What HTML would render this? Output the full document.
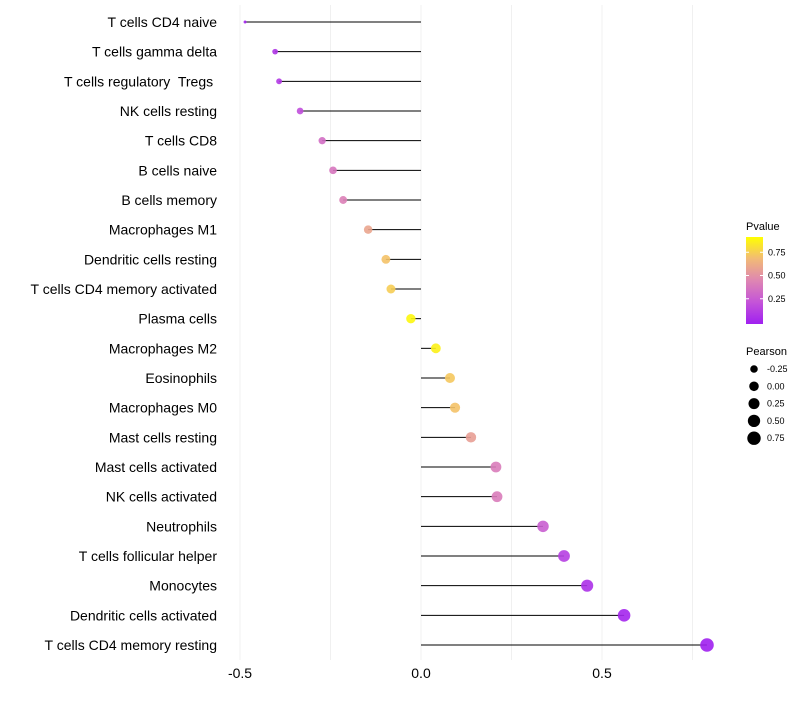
<!DOCTYPE html>
<html><head><meta charset="utf-8"><style>body{margin:0;background:#fff}svg{font-family:"Liberation Sans",sans-serif}text{white-space:pre}</style></head>
<body>
<svg id="chart" width="800" height="700"></svg>
<script>
const categories=["T cells CD4 naive","T cells gamma delta","T cells regulatory  Tregs ","NK cells resting","T cells CD8","B cells naive","B cells memory","Macrophages M1","Dendritic cells resting","T cells CD4 memory activated","Plasma cells","Macrophages M2","Eosinophils","Macrophages M0","Mast cells resting","Mast cells activated","NK cells activated","Neutrophils","T cells follicular helper","Monocytes","Dendritic cells activated","T cells CD4 memory resting"];
const pearson=[-0.486,-0.403,-0.392,-0.334,-0.273,-0.243,-0.215,-0.146,-0.097,-0.083,-0.028,0.041,0.080,0.094,0.138,0.207,0.210,0.337,0.395,0.459,0.561,0.790];
const pvalue=[0.02,0.1,0.12,0.22,0.38,0.42,0.47,0.65,0.78,0.82,0.97,0.95,0.8,0.78,0.62,0.45,0.45,0.3,0.15,0.08,0.03,0.001];
const xTicks=[-0.5,0,0.5];
const xTickLabels=["-0.5","0.0","0.5"];
const xGrid=[-0.5,-0.25,0,0.25,0.5,0.75];
const pTicks=[0.25,0.5,0.75];
const pTickLabels=["0.25","0.50","0.75"];
const sizeBreaks=[-0.25,0,0.25,0.5,0.75];
const sizeLabels=["-0.25","0.00","0.25","0.50","0.75"];

const NS="http://www.w3.org/2000/svg",svg=document.getElementById('chart');
function mk(t,a,p){const e=document.createElementNS(NS,t);for(const k in a)e.setAttribute(k,a[k]);(p||svg).appendChild(e);return e;}
const x=v=>421+v*362;
const y=i=>22+i*(623/(categories.length-1));
const pmin=Math.min(...pearson),pmax=Math.max(...pearson);
const r=v=>1.5+5.3*Math.sqrt(Math.max(0,(v-pmin)/(pmax-pmin)));
const stops=[[160,32,240],[196,84,216],[222,134,178],[242,186,118],[255,255,0]];
function col(p){p=Math.max(0,Math.min(1,p));const s=p*4,i=Math.min(3,Math.floor(s)),f=s-i;const a=stops[i],b=stops[i+1];
 return `rgb(${a.map((c,k)=>Math.round(c+(b[k]-c)*f)).join(',')})`;}
xGrid.forEach(g=>{const l=mk('line',{x1:x(g),x2:x(g),y1:5,y2:660,stroke:'#f0f0f0','stroke-width':1});
});
xTicks.forEach((t,i)=>{const e=mk('text',{x:x(t),y:678,'text-anchor':'middle','font-size':14,fill:'#000'});e.textContent=xTickLabels[i];
});
categories.forEach((c,i)=>{
 const t=mk('text',{x:217,y:y(i)+5,'text-anchor':'end','font-size':14,fill:'#000'});t.textContent=c;
 
 const l=mk('line',{x1:x(0),x2:x(pearson[i]),y1:y(i),y2:y(i),stroke:'#000','stroke-width':1});
 
 const d=mk('circle',{cx:x(pearson[i]),cy:y(i),r:r(pearson[i]),fill:col(pvalue[i]),'fill-opacity':0.9});
 
});
const pt=mk('text',{x:746,y:230,'font-size':11});pt.textContent='Pvalue';

const defs=mk('defs',{});const lg=mk('linearGradient',{id:'g',x1:0,y1:1,x2:0,y2:0},defs);
stops.forEach((s,i)=>mk('stop',{offset:i/4,'stop-color':col(i/4)},lg));
const cb=mk('rect',{x:746,y:237,width:17,height:87,fill:'url(#g)'});

const cy=p=>322-p*(322-229);
pTicks.forEach((p,i)=>{mk('line',{x1:746,x2:749,y1:cy(p),y2:cy(p),stroke:'#fff'});mk('line',{x1:760,x2:763,y1:cy(p),y2:cy(p),stroke:'#fff'});
 const e=mk('text',{x:768,y:cy(p)+3,'font-size':9});e.textContent=pTickLabels[i];
 });
const st=mk('text',{x:746,y:355,'font-size':11});st.textContent='Pearson';

sizeBreaks.forEach((s,i)=>{const yy=369+i*17.3;
 const c=mk('circle',{cx:754,cy:yy,r:r(s),fill:'#000'});
 
 const e=mk('text',{x:767,y:yy+3,'font-size':9});e.textContent=sizeLabels[i];
 });
</script>
</body></html>
